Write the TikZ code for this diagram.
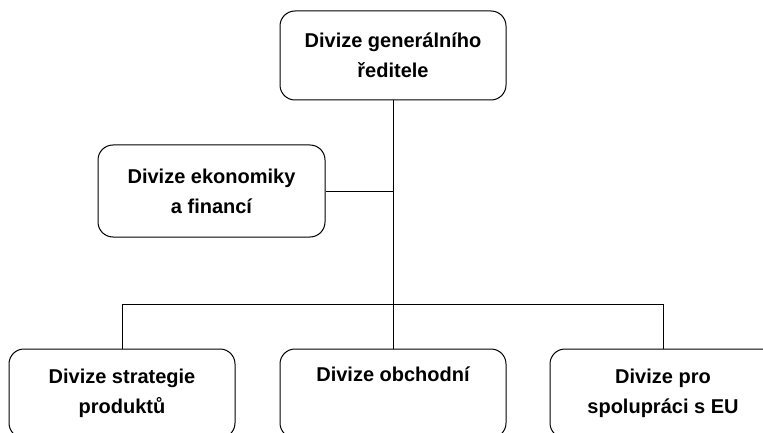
\documentclass[tikz,border=0pt]{standalone}
\usepackage{fontspec}
\setmainfont{Liberation Sans}
\begin{document}
\begin{tikzpicture}[x=1pt,y=-1pt,
  unit/.style={draw, line width=1pt, rounded corners=15pt,
    minimum width=226pt, minimum height=89pt, align=center, inner sep=0pt,
    font=\bfseries\fontsize{20}{30}\selectfont},
  link/.style={line width=1pt}]
\useasboundingbox (0,0) rectangle (763,433);
\clip (0,0) rectangle (763,433);
% boxes
\node[unit] (gr) at (393,55.5) {Divize generálního\\ředitele};
\node[unit, minimum width=227pt, minimum height=92pt] (ek) at (211.5,191) {Divize ekonomiky\\a financí};
\node[unit] (st) at (122,393.5) {Divize strategie\\produktů};
\node[unit] (ob) at (393,393.5) {Divize obchodní\\\strut};
\node[unit] (eu) at (663,393.5) {Divize pro\\spolupráci s EU};
% connectors
\coordinate (bus) at (393,304);
\draw[link] (gr) -- (ob);
\draw[link] (ek.east) -- (ek.east -| gr.south);
\draw[link] (st.north) -- (st.north |- bus) -- (eu.north |- bus) -- (eu.north);
\end{tikzpicture}
\end{document}
